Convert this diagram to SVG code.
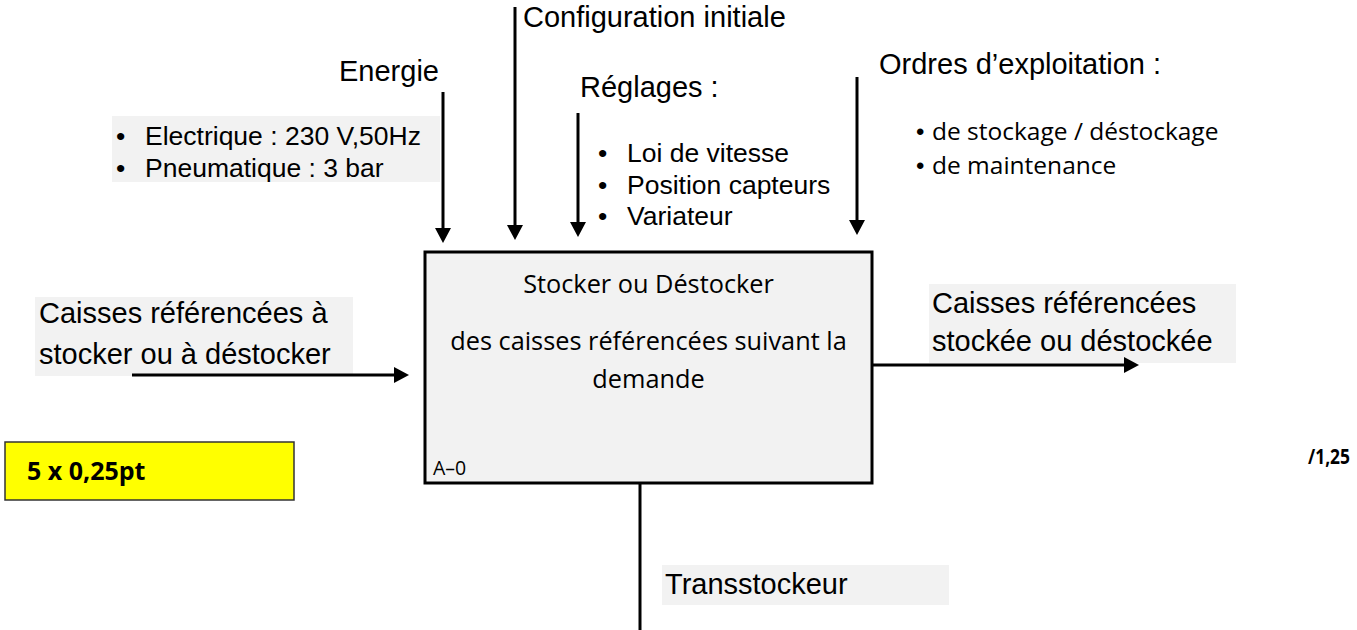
<svg xmlns="http://www.w3.org/2000/svg" width="1357" height="630" viewBox="0 0 1357 630">
<style>
.lbl{font-family:"Liberation Sans",Arial,sans-serif;font-size:29px;fill:#000}
.bul{font-family:"Liberation Sans",Arial,sans-serif;font-size:26.5px;fill:#000}
.cal{font-family:"Open Sans","Noto Sans",sans-serif;font-size:25.3px;fill:#000}
.cal2{font-family:"Open Sans","Noto Sans",sans-serif;font-size:24.5px;fill:#000}
.bold{font-family:"Open Sans","Noto Sans",sans-serif;font-weight:bold;font-size:25px;fill:#000}
.bg{fill:#f2f2f2}
.wire{stroke:#000;stroke-width:3;fill:none}
</style>
<defs>
<marker id="ah" markerWidth="15" markerHeight="16" refX="0" refY="8" orient="auto" markerUnits="userSpaceOnUse" viewBox="0 0 15 16"><path d="M0,0 L15,8 L0,16 z" fill="#000"/></marker>
</defs>
<rect width="1357" height="630" fill="#fff"/>

<g id="energie">
<text class="lbl" x="339" y="81">Energie</text>
<rect class="bg" x="112" y="116" width="328" height="66"/>
<text class="bul" x="116" y="145">•</text>
<text class="bul" x="145" y="145">Electrique : 230 V,50Hz</text>
<text class="bul" x="116" y="177">•</text>
<text class="bul" x="145" y="177">Pneumatique : 3 bar</text>
</g>

<g id="configuration">
<text class="lbl" x="523" y="27">Configuration initiale</text>
</g>

<g id="reglages">
<text class="lbl" x="580" y="97">Réglages :</text>
<text class="bul" x="598" y="162">•</text>
<text class="bul" x="627" y="162">Loi de vitesse</text>
<text class="bul" x="598" y="194">•</text>
<text class="bul" x="627" y="194">Position capteurs</text>
<text class="bul" x="598" y="225">•</text>
<text class="bul" x="627" y="225">Variateur</text>
</g>

<g id="ordres">
<text class="lbl" x="879" y="74">Ordres d’exploitation :</text>
<text class="bul" x="916" y="140" style="font-size:24px">•</text>
<text class="cal2" x="932" y="140">de stockage / déstockage</text>
<text class="bul" x="916" y="174" style="font-size:24px">•</text>
<text class="cal2" x="932" y="174">de maintenance</text>
</g>

<g id="entree">
<rect class="bg" x="35" y="297" width="318" height="79"/>
<text class="lbl" x="39" y="323">Caisses référencées à</text>
<text class="lbl" x="39" y="364">stocker ou à déstocker</text>
</g>

<g id="fonction">
<rect x="425" y="252" width="447" height="231" fill="#f2f2f2" stroke="#000" stroke-width="3"/>
<text class="cal" x="648.5" y="293" text-anchor="middle">Stocker ou Déstocker</text>
<text class="cal" x="648.5" y="350" text-anchor="middle">des caisses référencées suivant la</text>
<text class="cal" x="648.5" y="388" text-anchor="middle">demande</text>
<text class="cal" x="433" y="475" style="font-size:19.5px">A–0</text>
</g>

<g id="sortie">
<rect class="bg" x="929" y="284" width="307" height="79"/>
<text class="lbl" x="932" y="313">Caisses référencées</text>
<text class="lbl" x="932" y="351">stockée ou déstockée</text>
</g>

<g id="mecanisme">
<rect class="bg" x="662" y="565" width="287" height="40"/>
<text class="lbl" x="665" y="594">Transstockeur</text>
</g>

<g id="bareme">
<rect x="5" y="442" width="289" height="58" fill="#ffff00" stroke="#333" stroke-width="1.5"/>
<text class="bold" x="27" y="480">5 x 0,25pt</text>
</g>

<g id="note">
<text class="bold" x="1308" y="464" style="font-size:21px" textLength="42" lengthAdjust="spacingAndGlyphs">/1,25</text>
</g>

<g id="connectors">
<path class="wire" d="M443,92 V228" marker-end="url(#ah)"/>
<path class="wire" d="M515,7 V225" marker-end="url(#ah)"/>
<path class="wire" d="M578,113 V222" marker-end="url(#ah)"/>
<path class="wire" d="M857,77 V220" marker-end="url(#ah)"/>
<path class="wire" d="M132,375 H394" marker-end="url(#ah)"/>
<path class="wire" d="M872,365 H1124" marker-end="url(#ah)"/>
<path class="wire" d="M640,483 V630"/>
</g>
</svg>
